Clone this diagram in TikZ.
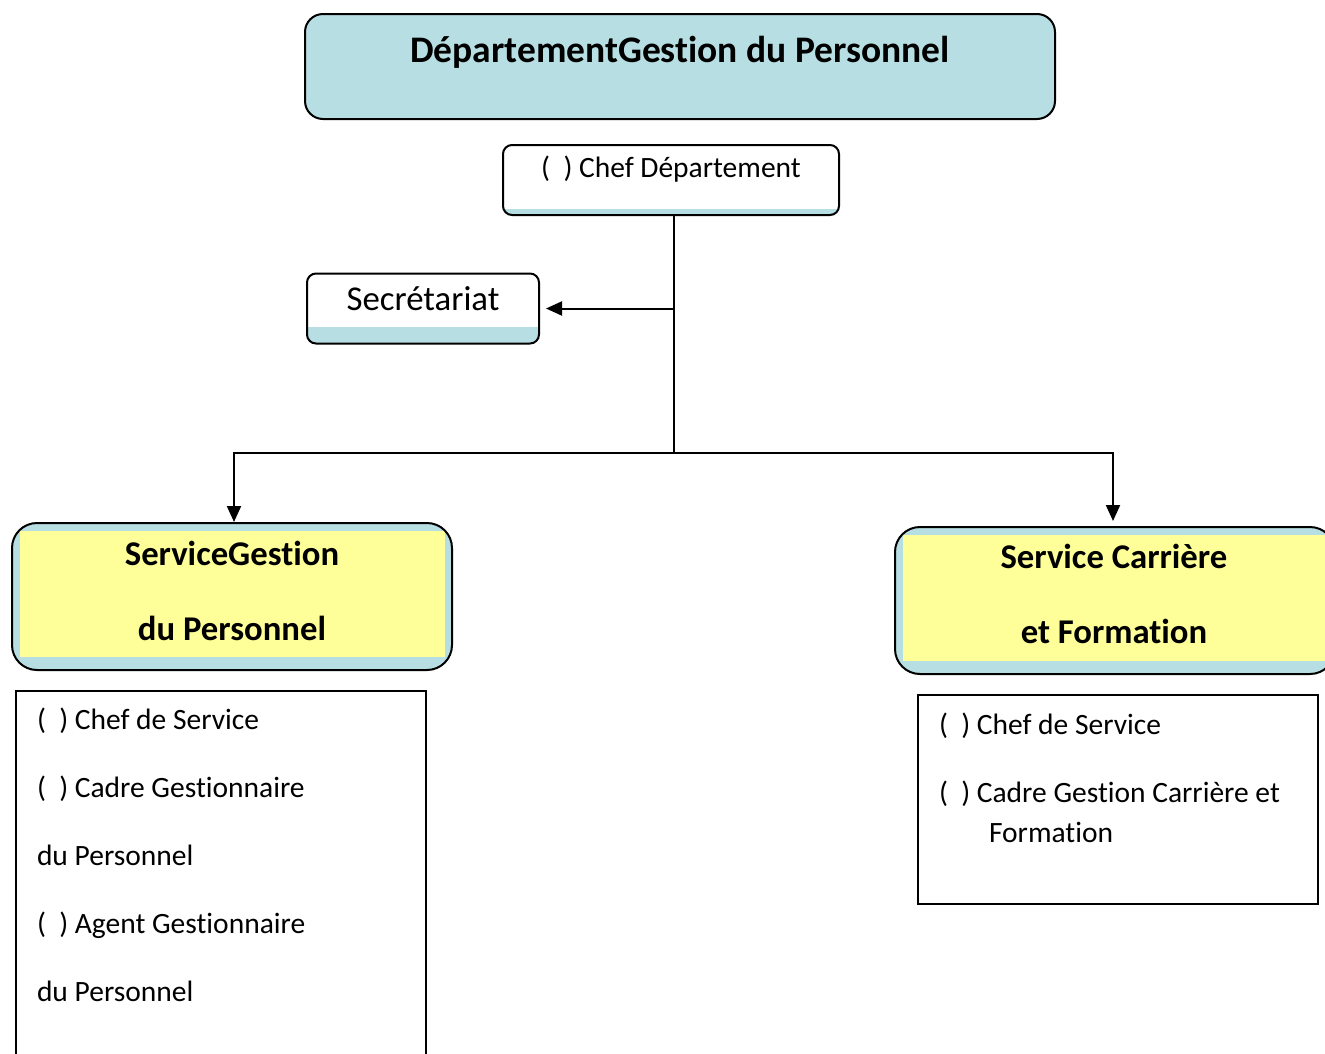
\documentclass[tikz,border=0pt]{standalone}
\usepackage{fontspec}
\setmainfont{Carlito}[RawFeature={-liga;-clig;-calt;-rlig;-dlig}]
\usetikzlibrary{arrows.meta}
\definecolor{lblue}{RGB}{183,222,226}
\definecolor{lyellow}{RGB}{255,255,153}
\newcommand\myti{t\kern0pt i}
\begin{document}
\begin{tikzpicture}[x=1pt,y=-1pt,line width=2pt,
  txt/.style={inner sep=0pt},
  titlebox/.style={draw, fill=lblue, rounded corners=18pt, inner sep=0pt},
  stripbox/.style={draw, fill=lblue, inner sep=0pt, rounded corners=9pt,
    path picture={\fill[white, sharp corners] (path picture bounding box.north west) rectangle ([yshift=#1]path picture bounding box.south east);}},
  svcbox/.style={draw, fill=lblue, inner sep=0pt, rounded corners=25pt,
    path picture={\fill[lyellow, sharp corners] ([shift={(8pt,-8pt)}]path picture bounding box.north west) rectangle ([shift={(-7pt,13pt)}]path picture bounding box.south east);}},
  listbox/.style={draw, inner sep=0pt},
  arr/.style={-{Triangle[length=16pt,width=14pt]}}]
\clip (0,0) rectangle (1325,1053);
\fill[white] (0,0) rectangle (1325,1053);
% boxes
\node[titlebox, minimum width=750pt, minimum height=105pt] (top) at (680,66.5) {};
\node[stripbox=6pt, minimum width=336pt, minimum height=70pt] (chef) at (671,180) {};
\node[stripbox=17pt, minimum width=232pt, minimum height=70pt] (secr) at (423,308.5) {};
\node[svcbox, minimum width=440pt, minimum height=147pt] (lsvc) at (232,596.5) {};
\node[svcbox, minimum width=440pt, minimum height=147pt] (rsvc) at (1115,600.5) {};
\node[listbox, minimum width=410pt, minimum height=380pt] (llist) at (221,881) {};
\node[listbox, minimum width=400pt, minimum height=209pt] (rlist) at (1118,799.5) {};
% texts
\node[txt, anchor=base] (ttop) at (680,62) {\fontsize{37.5}{42}\selectfont\bfseries DépartementGes\myti on du Personnel};
\node[txt, anchor=base] (tchef) at (671,177) {\fontsize{29.5}{34}\selectfont (\ \ ) Chef Département};
\node[txt, anchor=base] (tsecr) at (423,310) {\fontsize{34.8}{40}\selectfont Secrétariat};
\node[txt, anchor=base] (tl1) at (232,565) {\fontsize{34.7}{40}\selectfont\bfseries ServiceGes\myti on};
\node[txt, anchor=base] (tl2) at (232,640) {\fontsize{34.7}{40}\selectfont\bfseries du Personnel};
\node[txt, anchor=base] (tr1) at (1114,568) {\fontsize{34.7}{40}\selectfont\bfseries Service Carrière};
\node[txt, anchor=base] (tr2) at (1114,643) {\fontsize{34.7}{40}\selectfont\bfseries et Forma\myti on};
\node[txt, anchor=base west] (ll1) at (36,729) {\fontsize{29.5}{34}\selectfont (\ \ ) Chef de Service};
\node[txt, anchor=base west] (ll2) at (36,797) {\fontsize{29.5}{34}\selectfont (\ \ ) Cadre Ges\myti onnaire};
\node[txt, anchor=base west] (ll3) at (36,865) {\fontsize{29.5}{34}\selectfont du Personnel};
\node[txt, anchor=base west] (ll4) at (36,933) {\fontsize{29.5}{34}\selectfont (\ \ ) Agent Ges\myti onnaire};
\node[txt, anchor=base west] (ll5) at (36,1001) {\fontsize{29.5}{34}\selectfont du Personnel};
\node[txt, anchor=base west] (rl1) at (938,734) {\fontsize{29.5}{34}\selectfont (\ \ ) Chef de Service};
\node[txt, anchor=base west] (rl2) at (938,802) {\fontsize{29.5}{34}\selectfont (\ \ ) Cadre Ges\myti on Carrière et};
\node[txt, anchor=base west] (rl3) at (988,842) {\fontsize{29.5}{34}\selectfont Forma\myti on};
% connectors
\coordinate (j) at (674,453);
\coordinate (m) at (674,308.5);
\draw (chef.south -| j) -- (j);
\draw[arr] (m) -- ([xshift=6pt]secr.east);
\draw[arr] (j) -| ([xshift=2pt]lsvc.north);
\draw[arr] (j) -| ([xshift=-2pt,yshift=5pt]rsvc.north);
\end{tikzpicture}
\end{document}
